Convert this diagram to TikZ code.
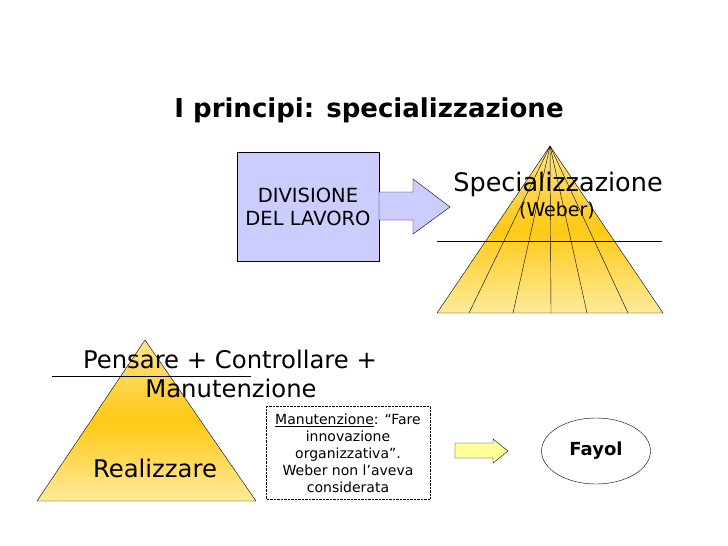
\documentclass[tikz,border=0pt]{standalone}
\usepackage{fontspec}
\setmainfont{DejaVu Sans}
\usetikzlibrary{shapes.geometric}

\definecolor{lavender}{RGB}{204,204,255}
\definecolor{paleyellow}{RGB}{255,255,153}
\definecolor{goldtop}{RGB}{253,226,140}
\definecolor{goldmid}{RGB}{255,201,20}
\definecolor{goldbot}{RGB}{255,234,155}

\tikzset{
  pyramid/.style={draw, top color=goldtop, bottom color=goldbot, middle color=goldmid},
  bigtext/.style={font=\fontsize{24.3}{28}\selectfont, inner sep=0pt}
}

\begin{document}
\begin{tikzpicture}[x=1pt, y=-1pt]
	\useasboundingbox (0,0) rectangle (728,546);

	\node[font=\bfseries\fontsize{26}{30}\selectfont] (title) at (369,110) {I principi: specializzazione};

	% divisione del lavoro
	\fill[lavender, draw=black] (237,152) rectangle (379,261);
	\node[font=\fontsize{19.5}{23}\selectfont, align=center] (divisione) at (308,207) {DIVISIONE\\DEL LAVORO};
	\fill[lavender, draw=black] (379,192) -- (413,192) -- (413,179) -- (450,207)
	      -- (413,234) -- (413,220) -- (379,220) -- cycle;

	% piramide di Weber
	\path[pyramid] (550,146) -- (663,313) -- (437,313) -- cycle;
	\foreach \x in {469,513,551,587,628}
	  \draw (550,146) -- (\x,313);
	\draw (437,241) -- (662,241);
	\node[bigtext, font=\fontsize{25.5}{28}\selectfont] (spec) at (558,184) {Specializzazione};
	\node[font=\fontsize{19}{22}\selectfont, inner sep=0pt] (weber) at (557,211) {(Weber)};

	% piramide di Fayol
	\path[pyramid] (145,340) -- (256,501) -- (37,501) -- cycle;
	\draw (52,376) -- (251,376);
	\node[bigtext] (pensare) at (230,359) {Pensare + Controllare +};
	\node[bigtext] (manut) at (231,388) {Manutenzione};
	\node[bigtext] (realizzare) at (155,468) {Realizzare};

	\draw[densely dotted, thin] (266,406) rectangle (430,499);
	\node[font=\fontsize{14}{17}\selectfont, align=center] (nota) at (348,453)
	  {\underline{Manutenzione}: “Fare\\innovazione\\organizzativa”.\\Weber non l’aveva\\considerata};

	\fill[paleyellow, draw=black] (455,443) -- (493,443) -- (493,439) -- (508,451)
	      -- (493,463) -- (493,458) -- (455,458) -- cycle;

	\node[draw, ellipse, minimum width=109pt, minimum height=66pt,
	      font=\bfseries\fontsize{18}{20}\selectfont] (fayol) at (596,451) {Fayol};
\end{tikzpicture}
\end{document}
